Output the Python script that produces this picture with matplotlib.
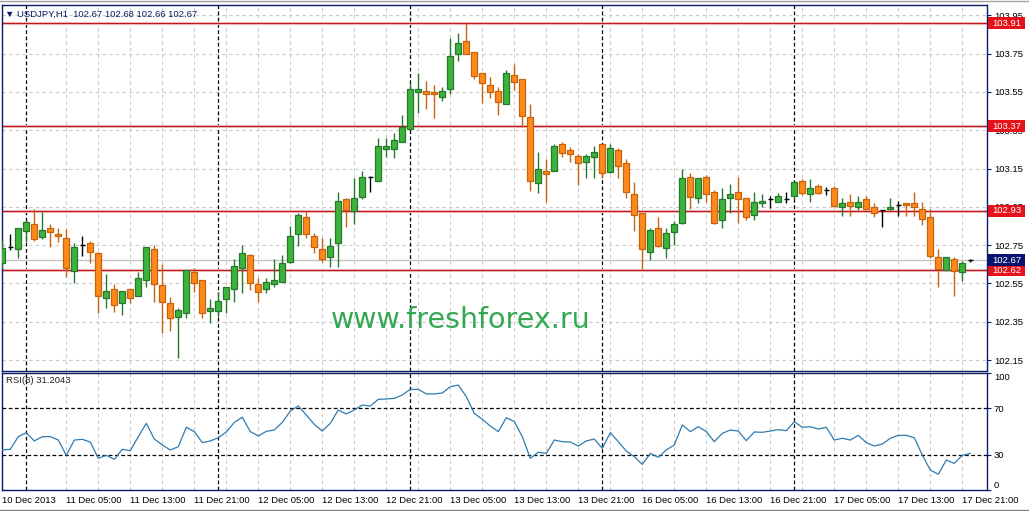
import matplotlib
matplotlib.use("Agg")
import matplotlib.pyplot as plt
from matplotlib.patches import Rectangle

# USDJPY H1, 10 Dec 21:00 .. 17 Dec 22:00
opens = [102.655, 102.740, 102.728, 102.826, 102.859, 102.794, 102.839, 102.808, 102.786, 102.615,
         102.751, 102.759, 102.707, 102.476, 102.519, 102.446, 102.519, 102.487, 102.567, 102.728,
         102.542, 102.448, 102.377, 102.398, 102.611, 102.567, 102.407, 102.407, 102.467, 102.519,
         102.629, 102.698, 102.546, 102.519, 102.547, 102.556, 102.663, 102.806, 102.895, 102.798,
         102.728, 102.686, 102.759, 102.991, 102.928, 103.003, 103.104, 103.086, 103.253, 103.253,
         103.287, 103.355, 103.551, 103.555, 103.548, 103.525, 103.564, 103.746, 103.817, 103.757,
         103.647, 103.586, 103.555, 103.485, 103.638, 103.616, 103.417, 103.076, 103.137, 103.137,
         103.276, 103.247, 103.215, 103.186, 103.208, 103.276, 103.133, 103.247, 103.177, 103.015,
         102.916, 102.716, 102.838, 102.733, 102.817, 102.868, 103.104, 102.994, 103.104, 103.027,
         102.881, 102.994, 103.026, 102.994, 102.907, 102.968, 102.989, 102.977, 102.991, 103.006,
         103.086, 103.017, 103.059, 103.036, 103.047, 102.947, 102.977, 102.947, 102.989, 102.947,
         102.933, 102.937, 102.961, 102.968, 102.968, 102.937, 102.895, 102.686, 102.620, 102.676,
         102.610, 102.670]
highs = [102.777, 102.808, 102.839, 102.881, 102.937, 102.923, 102.859, 102.839, 102.833, 102.759,
         102.799, 102.771, 102.716, 102.599, 102.547, 102.510, 102.521, 102.610, 102.739, 102.751,
         102.650, 102.481, 102.420, 102.618, 102.629, 102.567, 102.467, 102.507, 102.530, 102.676,
         102.751, 102.704, 102.577, 102.577, 102.676, 102.698, 102.850, 102.919, 102.924, 102.812,
         102.786, 102.786, 103.026, 102.994, 103.099, 103.137, 103.113, 103.308, 103.308, 103.334,
         103.429, 103.603, 103.647, 103.607, 103.586, 103.577, 103.830, 103.856, 103.910, 103.757,
         103.647, 103.626, 103.577, 103.664, 103.696, 103.616, 103.487, 103.235, 103.200, 103.276,
         103.290, 103.264, 103.224, 103.224, 103.267, 103.276, 103.276, 103.255, 103.200, 103.078,
         102.916, 102.838, 102.895, 102.838, 102.878, 103.146, 103.125, 103.099, 103.116, 103.039,
         103.048, 103.068, 103.105, 102.994, 103.029, 103.015, 103.006, 103.024, 103.026, 103.078,
         103.094, 103.095, 103.067, 103.055, 103.059, 102.994, 103.017, 103.006, 103.006, 102.968,
         102.935, 102.994, 102.982, 102.970, 103.026, 102.977, 102.937, 102.728, 102.686, 102.686,
         102.669, 102.680]
lows = [102.630, 102.724, 102.684, 102.768, 102.770, 102.784, 102.739, 102.768, 102.585, 102.554,
        102.695, 102.655, 102.395, 102.420, 102.399, 102.385, 102.446, 102.487, 102.530, 102.455,
        102.289, 102.301, 102.159, 102.368, 102.507, 102.368, 102.345, 102.375, 102.397, 102.454,
        102.498, 102.518, 102.454, 102.498, 102.533, 102.556, 102.655, 102.747, 102.786, 102.707,
        102.663, 102.637, 102.637, 102.846, 102.859, 102.989, 103.026, 103.086, 103.212, 103.206,
        103.287, 103.355, 103.441, 103.461, 103.415, 103.504, 103.537, 103.713, 103.746, 103.616,
        103.494, 103.517, 103.429, 103.485, 103.560, 103.365, 103.034, 103.024, 102.977, 103.137,
        103.208, 103.186, 103.064, 103.102, 103.102, 103.102, 103.125, 103.102, 102.994, 102.825,
        102.625, 102.672, 102.739, 102.684, 102.750, 102.858, 102.937, 102.968, 102.977, 102.859,
        102.838, 102.916, 102.864, 102.881, 102.881, 102.951, 102.942, 102.977, 102.968, 102.989,
        103.012, 102.977, 103.015, 103.012, 102.951, 102.904, 102.904, 102.933, 102.933, 102.895,
        102.846, 102.933, 102.904, 102.904, 102.904, 102.855, 102.681, 102.530, 102.620, 102.484,
        102.563, 102.660]
closes = [102.733, 102.740, 102.838, 102.869, 102.782, 102.829, 102.817, 102.796, 102.629, 102.739,
          102.751, 102.716, 102.487, 102.509, 102.436, 102.510, 102.476, 102.577, 102.739, 102.545,
          102.455, 102.368, 102.411, 102.618, 102.554, 102.398, 102.420, 102.457, 102.530, 102.641,
          102.707, 102.555, 102.507, 102.556, 102.566, 102.655, 102.798, 102.906, 102.806, 102.739,
          102.676, 102.748, 102.980, 102.933, 102.994, 103.104, 103.104, 103.267, 103.267, 103.299,
          103.365, 103.565, 103.565, 103.537, 103.537, 103.555, 103.737, 103.804, 103.746, 103.635,
          103.595, 103.548, 103.496, 103.647, 103.603, 103.424, 103.086, 103.146, 103.123, 103.267,
          103.233, 103.224, 103.177, 103.215, 103.234, 103.125, 103.255, 103.165, 103.026, 102.907,
          102.728, 102.829, 102.745, 102.812, 102.859, 103.099, 103.003, 103.099, 103.016, 102.868,
          102.989, 103.016, 102.990, 102.895, 102.977, 102.980, 102.989, 103.006, 102.991, 103.078,
          103.024, 103.047, 103.024, 103.036, 102.956, 102.968, 102.956, 102.977, 102.937, 102.916,
          102.933, 102.947, 102.961, 102.958, 102.947, 102.885, 102.693, 102.627, 102.686, 102.616,
          102.655, 102.670]

# RSI(8)
rsi = [34.2, 34.8, 45.6, 49.0, 41.9, 45.6, 45.6, 42.7, 29.6, 42.7,
       43.3, 41.0, 27.1, 29.6, 26.2, 34.8, 33.6, 45.6, 57.0, 43.6,
       38.5, 34.2, 37.0, 53.6, 49.9, 40.5, 41.9, 44.7, 49.6, 57.8,
       62.1, 49.9, 46.2, 50.1, 51.3, 57.8, 67.5, 71.8, 64.1, 56.1,
       50.4, 57.0, 68.4, 65.0, 68.4, 72.6, 71.8, 77.5, 77.8, 78.3,
       81.2, 86.0, 86.0, 82.1, 82.1, 82.9, 88.3, 89.7, 79.8, 65.5,
       60.4, 54.7, 49.9, 61.8, 58.5, 45.6, 27.1, 32.2, 31.3, 42.7,
       41.3, 41.0, 37.6, 41.9, 43.6, 35.6, 49.0, 41.3, 33.3, 28.5,
       21.9, 31.3, 27.9, 34.2, 38.5, 55.6, 49.9, 54.1, 49.9, 41.3,
       48.4, 51.3, 50.4, 42.2, 49.6, 49.3, 50.4, 51.6, 50.7, 58.4,
       53.6, 54.1, 52.1, 53.6, 42.7, 44.2, 42.7, 46.7, 40.5, 37.6,
       39.3, 44.2, 46.7, 46.7, 44.7, 29.9, 17.1, 13.4, 25.6, 22.8,
       29.6, 31.2]

# horizontal levels drawn on the chart
levels = [103.91, 103.37, 102.93, 102.62]
last_price = 102.67

price_ticks = [102.15, 102.35, 102.55, 102.75, 102.95, 103.15, 103.35, 103.55, 103.75, 103.95]
time_labels = ['10 Dec 2013', '11 Dec 05:00', '11 Dec 13:00', '11 Dec 21:00', '12 Dec 05:00',
               '12 Dec 13:00', '12 Dec 21:00', '13 Dec 05:00', '13 Dec 13:00', '13 Dec 21:00',
               '16 Dec 05:00', '16 Dec 13:00', '16 Dec 21:00', '17 Dec 05:00', '17 Dec 13:00',
               '17 Dec 21:00']
time_label_bars = [0, 8, 16, 24, 32, 40, 48, 56, 64, 72, 80, 88, 96, 104, 112, 120]
day_start_bars = [3, 27, 51, 75, 99]

FONT = ['Liberation Sans', 'DejaVu Sans']
plt.rcParams['font.family'] = FONT
NAVY = '#0c1a66'
UP_FILL, UP_EDGE = '#3cb43c', '#26782a'
DN_FILL, DN_EDGE = '#ff8a1c', '#c8620c'

W, H = 1029, 511
fig = plt.figure(figsize=(W / 100, H / 100), dpi=100)
fig.patch.set_facecolor('white')

def px_box(x0, y0, x1, y1):
    return [x0 / W, 1 - y1 / H, (x1 - x0) / W, (y1 - y0) / H]

ax = fig.add_axes(px_box(2, 5, 987, 371))
ax2 = fig.add_axes(px_box(2, 373, 987, 490), sharex=ax)

xmin, xmax = (2 - 2.3) / 8, (987 - 2.3) / 8
ax.set_xlim(xmin, xmax)
ax.set_ylim(102.093, 104.004)
ax2.set_ylim(0, 100)
px_price = (104.004 - 102.093) / 366  # price per pixel

for a in (ax, ax2):
    a.set_facecolor('white')
    for s in a.spines.values():
        s.set_color(NAVY)
        s.set_linewidth(1)
    a.spines['right'].set_linestyle((0, (1.5, 1)))
    # grid: gray dashed every 4 bars, black dashed at day start
    for b in range(8, 124, 4):
        a.axvline(b, color='#c9c9c9', lw=0.8, ls=(0, (3, 3)), zorder=0)
    for b in day_start_bars:
        a.axvline(b, color='black', lw=0.9, ls=(0, (3, 2)), zorder=1)

for p in price_ticks:
    ax.axhline(p, color='#c9c9c9', lw=0.8, ls=(0, (3, 3)), zorder=0)

# levels and bid line
for lv in levels:
    ax.axhline(lv, color='#f9dada', lw=2.2, zorder=1)
    ax.axhline(lv, color='#c0161e', lw=1, zorder=2)
ax.axhline(last_price, color='#c4c4c4', lw=1, zorder=1)

# candles
for i in range(len(opens)):
    o, h, l, c = opens[i], highs[i], lows[i], closes[i]
    if o == c:
        ax.vlines(i, l, h, color='black', lw=1, zorder=3)
        ax.hlines(c, i - 0.35, i + 0.35, color='black', lw=1, zorder=3)
        continue
    fill, edge = (UP_FILL, UP_EDGE) if c > o else (DN_FILL, DN_EDGE)
    ax.vlines(i, l, h, color=edge, lw=1, zorder=3)
    ax.bar(i, max(abs(c - o), 0.006), bottom=min(o, c), width=0.72,
           color=fill, edgecolor=edge, linewidth=0.9, zorder=4)

# watermark
ax.text(57.3, 102.359, 'www.freshforex.ru', color='#33a853', fontsize=20.5,
        family='DejaVu Sans', ha='center', va='center', zorder=2)

ax.text(0.003, 0.975, '\u25bc USDJPY,H1  102.67 102.68 102.66 102.67', transform=ax.transAxes,
        fontsize=6.8, color=NAVY, ha='left', va='center', family=FONT)

# price axis on the right
ax.set_yticks(price_ticks)
ax.set_yticklabels(['%.2f' % p for p in price_ticks])
ax.tick_params(axis='y', left=False, labelleft=False, right=True, labelright=True,
               length=3, width=0.8, color=NAVY, labelsize=6.8, pad=2)
ax.tick_params(axis='x', bottom=False, labelbottom=False)

# price tags on the right edge, drawn over the scale labels
ytrans = ax.get_yaxis_transform()
box_w = 37 / 985
box_h = 12 * px_price
tags = [(lv, '#e5121a') for lv in levels] + [(last_price, '#0a1470')]
for lv, col in tags:
    ax.add_patch(Rectangle((1.001, lv - box_h / 2), box_w, box_h, transform=ytrans,
                           fc=col, ec='none', clip_on=False, zorder=9))
    ax.text(1.001 + box_w / 2, lv, '%.2f' % lv, transform=ytrans, ha='center', va='center',
            color='white', fontsize=6.8, zorder=10, clip_on=False)

# RSI panel
ax2.axhline(70, color='black', lw=0.9, ls=(0, (3, 2)), zorder=1)
ax2.axhline(30, color='black', lw=0.9, ls=(0, (3, 2)), zorder=1)
ax2.plot(range(len(rsi)), rsi, color='#2e7bb0', lw=0.9, zorder=3)
ax2.text(0.004, 0.935, 'RSI(8) 31.2043', transform=ax2.transAxes, fontsize=6.8,
         color='#222222', ha='left', va='center')
ax2.set_yticks([0, 30, 70, 100])
ax2.set_yticklabels(['0', '30', '70', '100'])
ax2.tick_params(axis='y', left=False, labelleft=False, right=True, labelright=True,
                length=3, width=0.8, color=NAVY, labelsize=6.8, pad=2)
labs = ax2.get_yticklabels()
labs[0].set_va('bottom')
labs[3].set_va('top')

ax2.set_xticks(time_label_bars)
ax2.set_xticklabels(time_labels, ha='left')
ax2.tick_params(axis='x', length=0, labelsize=6.8, pad=4)

# window frame lines
fig.add_artist(plt.Line2D([0, 1], [1 - 1.5 / H, 1 - 1.5 / H], color='#a0a0a0', lw=1))
fig.add_artist(plt.Line2D([0, 1], [1 - 509.5 / H, 1 - 509.5 / H], color='#808080', lw=1))

fig.savefig('out.png', dpi=100, facecolor='white')
